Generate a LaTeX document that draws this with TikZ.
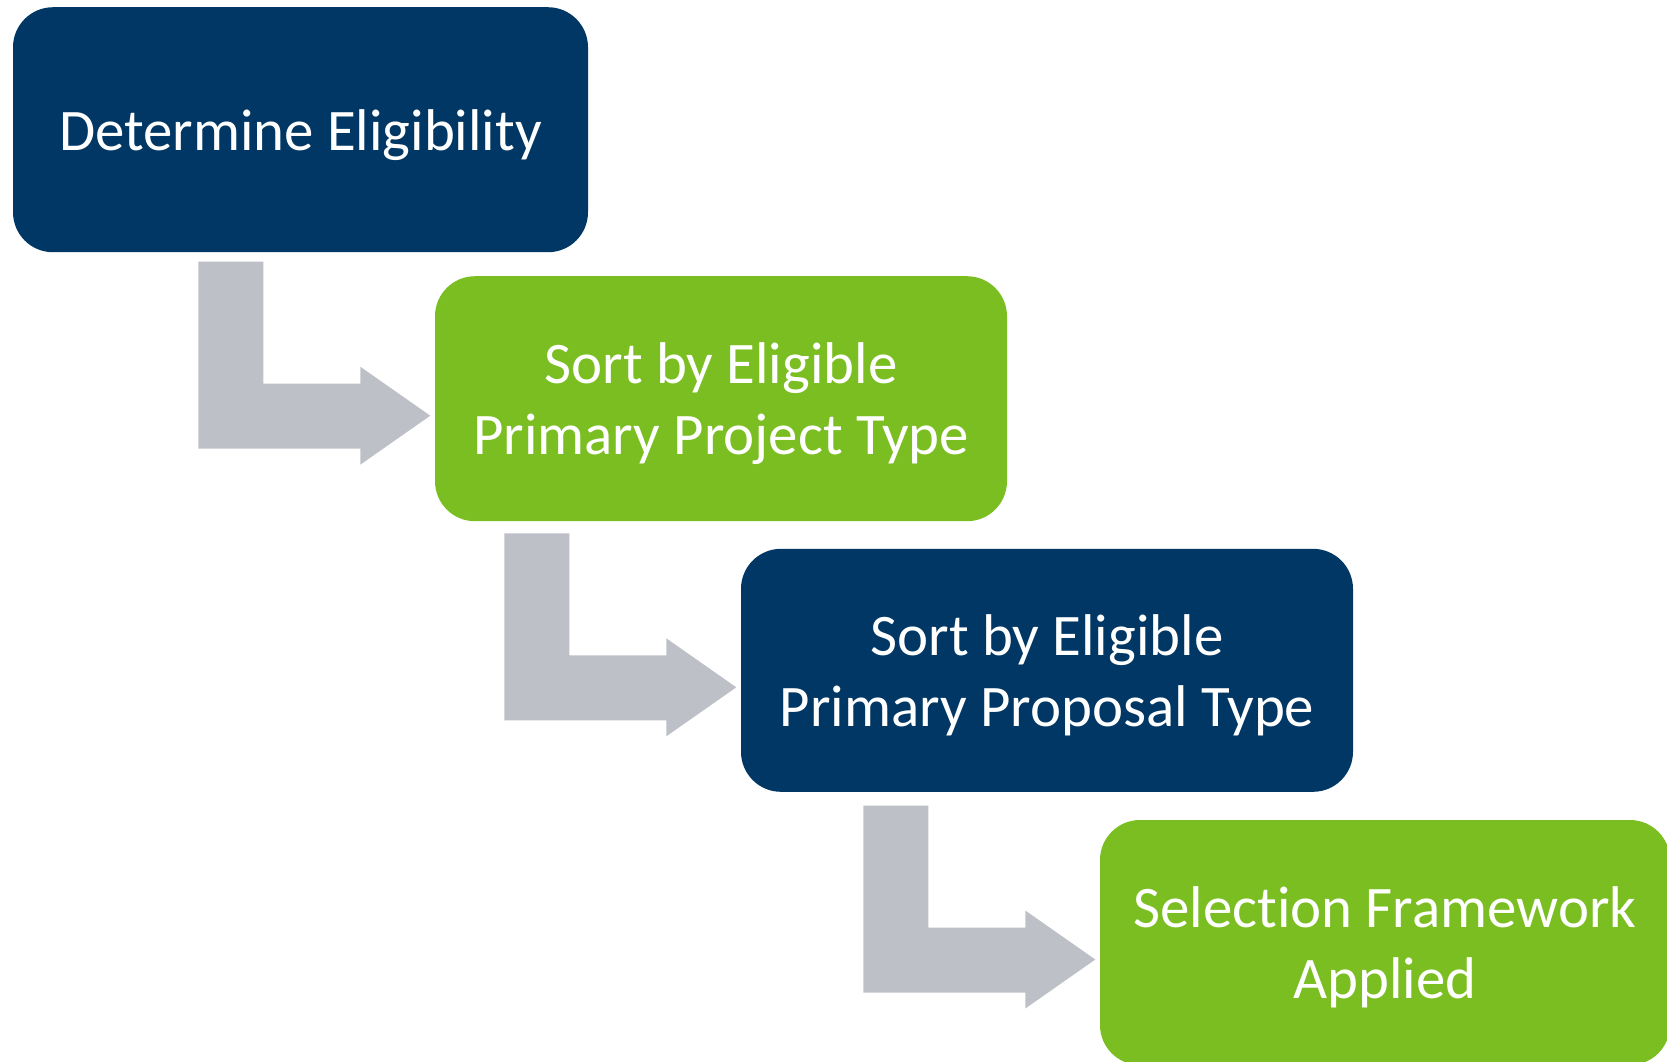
\documentclass[tikz,border=0pt]{standalone}
\usepackage{fontspec}
\setmainfont{Carlito}[Ligatures=NoCommon]
\usetikzlibrary{calc}

\definecolor{stepnavy}{RGB}{0,55,100}
\definecolor{stepgreen}{RGB}{122,190,33}
\definecolor{stepgray}{RGB}{189,192,199}

\begin{document}
\begin{tikzpicture}[
        stepbox/.style={rounded corners=0.4cm, text=white, align=center, inner sep=0pt,
            text depth=0pt, minimum height=2.45cm, font=\fontsize{16.75}{20.2}\selectfont},
    ]
        \clip (0,0) rectangle (16.67,-10.61);

        \node[stepbox, fill=stepnavy, minimum width=5.75cm] (elig) at (3.005,-1.297) {Determine Eligibility};
        \node[stepbox, fill=stepgreen, minimum width=5.72cm] (project) at (7.21,-3.987) {Sort by Eligible\\Primary Project Type};
        \node[stepbox, fill=stepnavy, minimum width=6.12cm, minimum height=2.43cm] (proposal) at (10.47,-6.703) {Sort by Eligible\\Primary Proposal Type};
        \node[stepbox, fill=stepgreen, minimum width=5.70cm] (framework) at (13.85,-9.425) {Selection Framework\\Applied};

        % bent arrows, tip just left of each box
        \foreach \b in {project,proposal,framework}
            \fill[stepgray] ($(\b.west)+(-0.04,-0.17)$) -- ++(-0.70,0.49) -- ++(0,-0.17)
                -- ++(-0.97,0) -- ++(0,1.22) -- ++(-0.65,0) -- ++(0,-1.87)
                -- ++(1.62,0) -- ++(0,-0.16) -- cycle;
    \end{tikzpicture}
\end{document}
